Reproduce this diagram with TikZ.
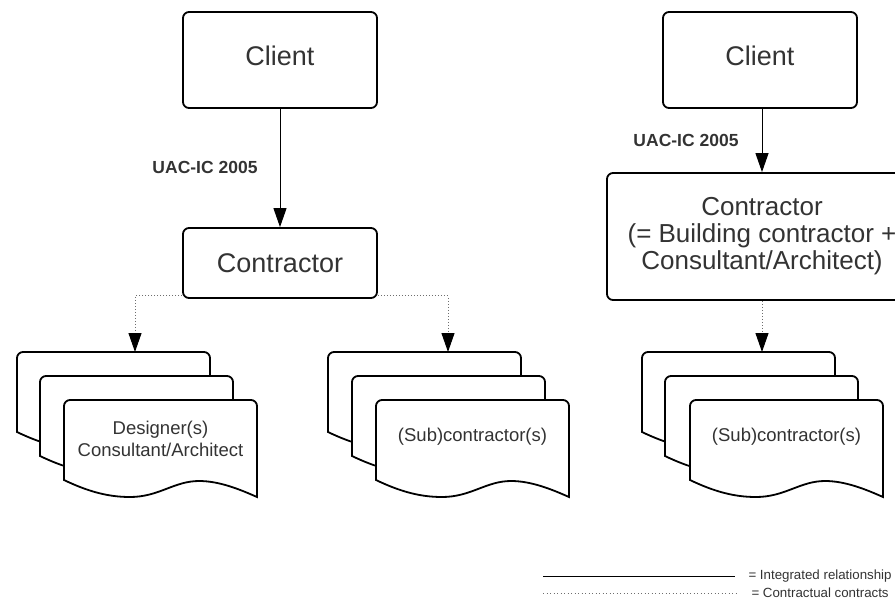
\documentclass[tikz,border=0pt]{standalone}
\usepackage{fontspec}
\setmainfont{Liberation Sans}
\usetikzlibrary{arrows.meta}
\definecolor{txt}{HTML}{333333}
\definecolor{dotc}{HTML}{6E6E6E}
\tikzset{
  box/.style={draw=black, line width=1.8pt, rounded corners=6pt, fill=white,
    text=txt, align=center, inner sep=0pt},
  integrated/.style={draw=black, line width=1pt,
    -{Triangle[length=19pt,width=13pt]}},
  contract/.style={draw=dotc, line width=1pt, dash pattern=on 1pt off 2pt,
    -{Triangle[length=19pt,width=13pt,fill=black,color=black]}},
  docline/.style={draw=black, line width=1.8pt, fill=white},
  doctext/.style={text=txt, align=center, font=\fontsize{18.5}{22}\selectfont},
  lbl/.style={text=txt, font=\fontsize{17.5}{20}\selectfont\bfseries},
  legend/.style={text=txt, anchor=west, font=\fontsize{13.3}{15}\selectfont}
}
% one sheet of a document stack: top-left corner at (#1,#2)
\newcommand{\docsheet}[2]{%
  \begin{scope}[shift={(#1,#2)}]
    \path[docline] (193,97) .. controls (175,89) and (155,81) .. (135,81)
      .. controls (110,81) and (95,97) .. (66,97)
      .. controls (45,97) and (25,92) .. (0,80)
      [rounded corners=6pt] -- (0,0) -- (193,0) [sharp corners] -- cycle;
  \end{scope}}
% title text sitting a little above the middle of its box
\newcommand{\hightext}[1]{\raisebox{-5.5pt}[0pt][0pt]{#1}}
\begin{document}
\begin{tikzpicture}[x=1pt, y=-1pt]
\useasboundingbox (0,0) rectangle (895,603);
\clip (0,0) rectangle (895,603);

% left scheme
\node[box, minimum width=194pt, minimum height=96pt,
  font=\fontsize{27}{30}\selectfont] (lcli) at (280,60) {\hightext{Client}};
\node[box, minimum width=194pt, minimum height=70pt,
  font=\fontsize{27}{30}\selectfont] (lcon) at (280,263) {Contractor};
\draw[integrated] (lcli) -- (lcon);
\node[lbl] (luac) at (205,167) {UAC-IC 2005};

\docsheet{17}{352}\docsheet{40}{376}\docsheet{64}{400}
\coordinate (ldes) at (135,352);
\node[doctext] (tdes) at (160.5,439) {Designer(s)\\Consultant/Architect};

\docsheet{328}{352}\docsheet{352}{376}\docsheet{376}{400}
\coordinate (lsub) at (448,352);
\node[doctext] (tsub) at (472.5,437) {(Sub)contractor(s)};

\draw[contract] ([yshift=3pt]lcon.south west) -| (ldes);
\draw[contract] ([yshift=3pt]lcon.south east) -| (lsub);

% right scheme
\node[box, minimum width=194pt, minimum height=96pt,
  font=\fontsize{27}{30}\selectfont] (rcli) at (760,60) {\hightext{Client}};
\node[box, minimum width=310pt, minimum height=127pt,
  font=\fontsize{26}{27}\selectfont] (rcon) at (762,236.5)
  {Contractor\\(= Building contractor +\\Consultant/Architect)};
\draw[integrated] (rcli.south -| rcon.north) -- (rcon.north);
\node[lbl] (ruac) at (686,140) {UAC-IC 2005};

\docsheet{642}{352}\docsheet{665}{376}\docsheet{690}{400}
\coordinate (rsub) at (762,352);
\node[doctext] (trsub) at (786.5,437) {(Sub)contractor(s)};
\draw[contract] (rcon.south) -- (rsub);

% legend
\coordinate (la) at (543,576);
\coordinate (lb) at (735,576);
\coordinate (lc) at (543,593);
\coordinate (ld) at (738,593);
\draw[black, line width=1pt] (la) -- (lb);
\draw[dotc, line width=1pt, dash pattern=on 1pt off 2.5pt] (lc) -- (ld);
\node[legend] (lg1) at (745,576) {= Integrated relationship};
\node[legend] (lg2) at (748,593) {= Contractual contracts};
\end{tikzpicture}
\end{document}
